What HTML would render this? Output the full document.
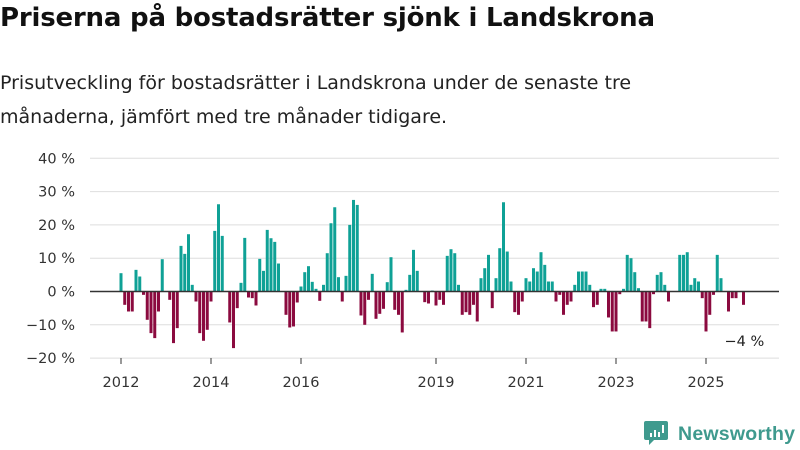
<!DOCTYPE html>
<html><head><meta charset="utf-8"><style>
body{margin:0;background:#fff;font-family:"Liberation Sans",sans-serif;}
#wrap{position:relative;width:800px;height:450px;overflow:hidden;}
h1{position:absolute;left:0;top:3px;margin:0;font-family:"DejaVu Sans",sans-serif;font-size:26px;font-weight:bold;color:#111;letter-spacing:-0.2px;}
.sub{position:absolute;left:0;top:66px;margin:0;font-family:"DejaVu Sans",sans-serif;font-size:19px;line-height:34px;color:#222;}
</style></head><body>
<div id="wrap">
<h1>Priserna på bostadsrätter sjönk i Landskrona</h1>
<p class="sub">Prisutveckling för bostadsrätter i Landskrona under de senaste tre<br>månaderna, jämfört med tre månader tidigare.</p>
<svg id="chart" width="800" height="450" style="position:absolute;left:0;top:0"></svg>
</div>
<script>
const values=[5.5,-4,-6,-6,6.5,4.5,-1,-8.5,-12.5,-14,-6,9.7,0,-2.5,-15.5,-11,13.7,11.3,17.2,2,-3,-12.5,-14.8,-11.5,-3,18.2,26.2,16.7,0,-9.3,-17,-5,2.6,16.1,-1.8,-2,-4.2,9.8,6.2,18.5,16,14.9,8.4,0,-7,-10.8,-10.5,-3.3,1.5,5.8,7.6,2.9,0.8,-2.8,2,11.5,20.5,25.3,4.3,-3,4.7,20,27.5,26,-7.2,-10,-2.5,5.3,-8.2,-6.7,-5.2,2.8,10.3,-5.5,-7,-12.3,0.5,5,12.5,6.2,0,-3.2,-3.6,0.3,-4.2,-2.5,-4,10.7,12.7,11.5,2,-7,-6.2,-7,-4,-9,4,7,11,-5,4,13,26.8,12,3,-6.2,-7,-3,4,3,7,6,11.8,8,3,3,-3,-1,-7,-4,-3,2,6,6,6,2,-4.7,-4,0.8,0.8,-7.8,-12,-12,-0.8,0.8,11,10,5.8,1,-9,-9,-11,-0.8,5,5.8,2,-3,0,0,11,11,11.8,2,4,3,-2,-12,-7,-1,11,4,0,-6,-2,-2,0,-4];
const yTicks=[40,30,20,10,0,-10,-20];
const yTickLabels=["40 %","30 %","20 %","10 %","0 %","−10 %","−20 %"];
const xYears=[2012,2014,2016,2019,2021,2023,2025];
const startYear=2012;
const lastLabel="−4 %";

const NS="http://www.w3.org/2000/svg";
const svg=document.getElementById('chart');
const x0=121, step=3.75;
function xs(i){return x0+i*step;}
function ys(v){return 291.5-v*3.33;}
function mk(t,a){const e=document.createElementNS(NS,t);for(const k in a)e.setAttribute(k,a[k]);svg.appendChild(e);return e;}
const FONT='DejaVu Sans, sans-serif';
yTicks.forEach((t,i)=>{
  if(t!==0){const g=mk('line',{x1:90,x2:779,y1:ys(t),y2:ys(t),stroke:'#dedede','stroke-width':1});
  
  }
  const l=mk('text',{x:75,y:ys(t)+5,'text-anchor':'end','font-size':14.5,fill:'#333','font-family':FONT});
  l.textContent=yTickLabels[i];
  
  
});
values.forEach((v,i)=>{
  if(v===0)return;
  const y=Math.min(ys(v),ys(0)), h=Math.abs(ys(v)-ys(0));
  const r=mk('rect',{x:xs(i)-1.5,y:y,width:3,height:h,fill:v>0?'#0fa196':'#8b0a3f'});
  
  
});
const z=mk('line',{x1:90,x2:779,y1:ys(0),y2:ys(0),stroke:'#333','stroke-width':1.5});


xYears.forEach(yr=>{
  const x=xs((yr-startYear)*12);
  const tk=mk('line',{x1:x,x2:x,y1:358,y2:364,stroke:'#333','stroke-width':1});
  
  
  const t=mk('text',{x:x,y:387,'text-anchor':'middle','font-size':14.5,fill:'#333','font-family':FONT});
  t.textContent=yr;
  
  
});
const li=values.length-1;
const al=mk('text',{x:xs(li)-19,y:ys(values[li])+41,'font-size':14.5,fill:'#222','font-family':FONT});
al.textContent=lastLabel;


// logo
const lg=mk('g',{});


const ic=document.createElementNS(NS,'path');
ic.setAttribute('d','M646 421 h20 a2 2 0 0 1 2 2 v15 a2 2 0 0 1 -2 2 h-12 l-5 5 v-5 h-3 a2 2 0 0 1 -2 -2 v-15 a2 2 0 0 1 2 -2z');
ic.setAttribute('fill','#3f9a8e');lg.appendChild(ic);
[[650,433,4],[654,430,7],[658,432,5],[662,425,8]].forEach(b=>{const r=document.createElementNS(NS,'rect');r.setAttribute('x',b[0]);r.setAttribute('y',b[1]);r.setAttribute('width',2);r.setAttribute('height',b[2]);r.setAttribute('fill','#fff');lg.appendChild(r);});
const lt=document.createElementNS(NS,'text');
lt.setAttribute('x',678);lt.setAttribute('y',440);lt.setAttribute('font-size',19.5);lt.setAttribute('font-weight','bold');lt.setAttribute('fill','#3f9a8e');lt.setAttribute('font-family','Liberation Sans, sans-serif');
lt.setAttribute('textLength',117);
lt.textContent='Newsworthy';lg.appendChild(lt);
</script>
</body></html>
